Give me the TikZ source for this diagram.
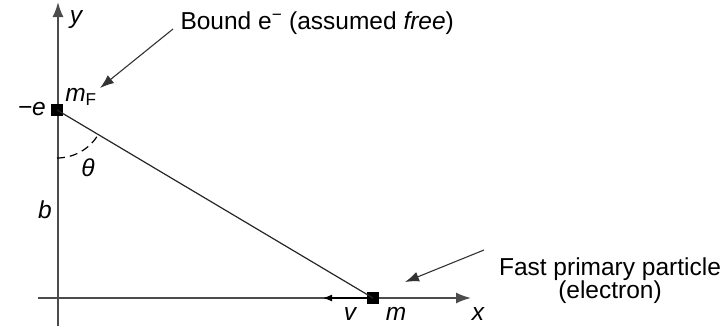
\documentclass[tikz,border=0pt]{standalone}
\usepackage{fontspec}
\setmainfont{Liberation Sans}
\usepackage{tikz}
\usetikzlibrary{arrows.meta,positioning,calc}

\begin{document}
\begin{tikzpicture}[x=1pt,y=-1pt,font=\fontsize{24.5}{23}\selectfont,
  axis/.style={line width=1.7pt,draw=black!70},
  particle/.style={fill=black,inner sep=0pt,minimum size=12pt},
  var/.style={font=\fontsize{24.5}{23}\selectfont\itshape,inner sep=0pt},
  pointer/.style={line width=1.1pt,draw=black!80,-{Latex[length=14pt,width=10pt]}}]
\useasboundingbox (0,0) rectangle (725,327);
% axes
\coordinate (ybot) at (58,326);
\coordinate (ytip) at (58,2);
\coordinate (xleft) at (38,298);
\coordinate (xtip) at (471,298);
\draw[axis,-{Latex[length=15pt,width=11pt]}] (ybot) -- (ytip);
\draw[axis,-{Latex[length=15pt,width=11pt]}] (xleft) -- (xtip);
% the two particles
\node[particle] (mF) at (57,110) {};
\node[particle] (m) at (373,298) {};
\draw[line width=1.2pt,black!85] (mF.center) -- (m.center);
\coordinate (vtip) at (323,298);
\draw[line width=1.2pt,{Latex[length=9pt,width=7pt]}-] (vtip) -- (m);
\draw[line width=1.2pt,dash pattern=on 8pt off 5pt] ($(mF.center)+(0,48)$) arc[start angle=90,end angle=30.7,radius=48];
% labels
\node[var] (ylab) at (76,20) {y};
\node[var,anchor=east] (elab) at (46,109) {−e};
\node[var] (mFlab) at (81,97) {m\textsubscript{\upshape F}};
\node[var] (blab) at (45,210) {b};
\node[var] (thlab) at (88,168) {θ};
\node[var] (vlab) at (350,314) {v};
\node[var] (mlab) at (396,314) {m};
\node[var] (xlab) at (478,314) {x};
\node[anchor=west] (bound) at (177,23) {Bound e\textsuperscript{−} (assumed \textit{free})};
\node[align=center] (fast) at (610,281) {Fast primary particle\\(electron)};
% pointers
\coordinate (boundtail) at (173,29);
\coordinate (boundhead) at (100,88);
\draw[pointer] (boundtail) -- (boundhead);
\coordinate (fasttail) at (484,250);
\coordinate (fasthead) at (405,282);
\draw[pointer] (fasttail) -- (fasthead);
\end{tikzpicture}
\end{document}
